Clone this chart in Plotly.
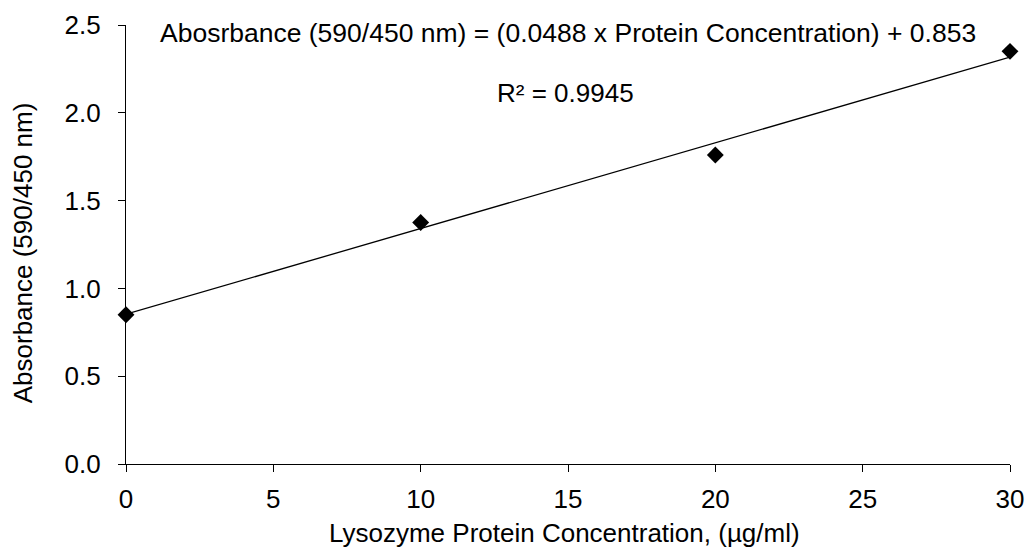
import plotly.graph_objects as go

conc = [0, 10, 20, 30]
absorb = [0.85, 1.375, 1.76, 2.35]
slope = 0.0488
intercept = 0.853
eq_text = "Abosrbance (590/450 nm) = (0.0488 x Protein Concentration) + 0.853"
r2_text = "R² = 0.9945"
x_title = "Lysozyme Protein Concentration, (µg/ml)"
y_title = "Absorbance (590/450 nm)"
x_ticks = [0, 5, 10, 15, 20, 25, 30]
y_ticks = [0.0, 0.5, 1.0, 1.5, 2.0, 2.5]

font = "Liberation Sans, Arial, sans-serif"
fs = 26
fit_x = [min(conc), max(conc)]
fit_y = [slope * v + intercept for v in fit_x]

fig = go.Figure()
fig.add_trace(go.Scatter(x=fit_x, y=fit_y, mode="lines",
                         line=dict(color="black", width=1.3), hoverinfo="skip"))
fig.add_trace(go.Scatter(x=conc, y=absorb, mode="markers",
                         marker=dict(symbol="diamond", size=13, color="black")))

fig.add_annotation(x=0.5, y=1.0, xref="paper", yref="paper", text=eq_text,
                   showarrow=False, xanchor="center", yanchor="middle",
                   yshift=-8, font=dict(size=26.5, color="black", family=font))
fig.add_annotation(x=0.497, y=1.0, xref="paper", yref="paper", text=r2_text,
                   showarrow=False, xanchor="center", yanchor="middle",
                   yshift=-68, font=dict(size=fs, color="black", family=font))
fig.add_annotation(x=0.5, y=0, xref="paper", yref="paper", text=x_title,
                   showarrow=False, xanchor="center", yanchor="middle",
                   xshift=-4, yshift=-69, font=dict(size=fs, color="black", family=font))
fig.add_annotation(x=0, y=0.48, xref="paper", yref="paper", text=y_title,
                   showarrow=False, xanchor="center", yanchor="middle", textangle=-90,
                   xshift=-103, font=dict(size=fs, color="black", family=font))

fig.update_layout(
    width=1029, height=551,
    margin=dict(l=126, r=19, t=25, b=87),
    paper_bgcolor="white", plot_bgcolor="white",
    showlegend=False,
    font=dict(family=font, size=fs, color="black"),
    xaxis=dict(range=[0, 30], tickvals=x_ticks, ticktext=[str(v) for v in x_ticks],
               showline=True, linecolor="black", linewidth=1.3, automargin=False,
               ticks="outside", ticklen=7, tickcolor="black", tickwidth=1.3,
               showgrid=False, zeroline=False, ticklabelstandoff=5),
    yaxis=dict(range=[0, 2.5], tickvals=y_ticks, ticktext=[f"{v:.1f}" for v in y_ticks],
               showline=True, linecolor="black", linewidth=1.3, automargin=False,
               ticks="outside", ticklen=7, tickcolor="black", tickwidth=1.3,
               showgrid=False, zeroline=False, ticklabelstandoff=12),
)
fig.update_traces(cliponaxis=False)
fig.write_html("out.html")
